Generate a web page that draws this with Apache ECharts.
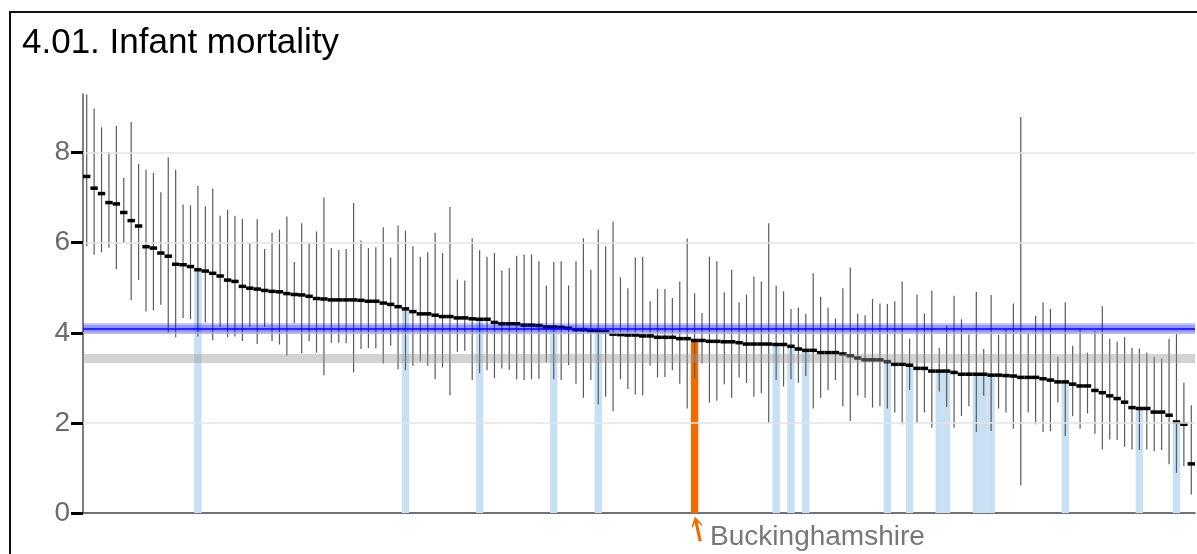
<!DOCTYPE html>
<html>
<head>
<meta charset="utf-8">
<title>4.01. Infant mortality</title>
<script src="https://cdn.jsdelivr.net/npm/echarts@6.0.0/dist/echarts.min.js"></script>
<style>
  html, body { margin: 0; padding: 0; background: #fff; }
  .wrap { position: relative; width: 1197px; height: 554px; overflow: hidden; }
  #chart { position: absolute; left: 0; top: 0; width: 1197px; height: 554px; }
  .frame {
    position: absolute; left: 9px; top: 11px; right: -4px; bottom: -4px;
    border-left: 2px solid #111; border-top: 2px solid #111;
    pointer-events: none;
  }
</style>
</head>
<body>
<div class="wrap">
  <div id="chart"></div>
  <div class="frame"></div>
</div>
<script>
// rate per 1,000 live births, areas ranked from highest to lowest
const pointEst = [
  7.47, 7.21, 7.09, 6.89, 6.86, 6.67, 6.49, 6.37, 5.91, 5.88, 5.77, 5.70, 5.52, 5.51, 5.47, 5.40, 5.37, 5.32, 5.26, 5.17,
  5.14, 5.03, 4.99, 4.97, 4.94, 4.92, 4.91, 4.87, 4.85, 4.84, 4.81, 4.76, 4.75, 4.73, 4.73, 4.73, 4.73,
  4.72, 4.70, 4.70, 4.66, 4.63, 4.58, 4.53, 4.47, 4.42, 4.42, 4.39, 4.36, 4.36, 4.33, 4.33, 4.31, 4.30, 4.30, 4.23, 4.20,
  4.20, 4.20, 4.17, 4.17, 4.16, 4.13, 4.13, 4.12, 4.10, 4.07, 4.07, 4.04, 4.03, 4.02, 3.97, 3.96, 3.95, 3.95,
  3.93, 3.93, 3.90, 3.90, 3.90, 3.87, 3.87, 3.83, 3.83, 3.81, 3.81, 3.80, 3.80, 3.78, 3.75, 3.75, 3.75, 3.75, 3.74, 3.74,
  3.70, 3.64, 3.61, 3.61, 3.56, 3.56, 3.56, 3.53, 3.49, 3.44, 3.40, 3.40, 3.40, 3.36, 3.30, 3.30, 3.28,
  3.21, 3.21, 3.15, 3.15, 3.15, 3.12, 3.08, 3.08, 3.08, 3.08, 3.06, 3.06, 3.05, 3.04, 3.01, 3.01, 3.01, 2.98, 2.95, 2.91,
  2.91, 2.86, 2.82, 2.82, 2.72, 2.67, 2.60, 2.54, 2.46, 2.34, 2.32, 2.32, 2.24, 2.24, 2.17, 2.02, 1.97, 1.09
];
const lowerCI = [
  5.92, 5.73, 5.79, 5.89, 5.41, 5.99, 4.73, 5.17, 4.47, 4.50, 4.62, 3.99, 3.90, 4.33, 4.30, 3.92, 4.23, 3.84, 4.13, 3.90,
  3.92, 3.82, 4.13, 3.75, 4.13, 3.82, 3.74, 3.49, 4.21, 3.54, 3.82, 3.56, 3.06, 3.78, 3.78, 3.77, 3.12,
  3.64, 3.66, 3.65, 3.32, 3.71, 3.19, 3.17, 3.27, 3.36, 3.27, 2.97, 3.23, 2.61, 3.58, 3.60, 2.95, 3.10, 3.17, 2.99, 3.21,
  3.18, 2.97, 2.95, 2.97, 2.98, 3.35, 2.97, 2.95, 3.28, 2.87, 2.56, 2.95, 2.41, 2.58, 2.26, 2.97, 2.75, 2.63,
  2.61, 3.27, 3.01, 3.02, 3.17, 2.87, 2.32, 2.99, 3.32, 2.45, 2.49, 2.86, 2.56, 3.01, 2.88, 2.58, 2.66, 1.99, 2.95, 2.81,
  2.97, 2.89, 3.04, 2.32, 2.56, 2.73, 2.95, 2.37, 2.04, 2.61, 2.56, 2.34, 2.37, 2.32, 2.23, 1.97, 2.73,
  2.00, 2.23, 1.89, 2.69, 2.35, 1.89, 2.15, 2.37, 1.80, 2.60, 1.82, 2.32, 2.23, 1.87, 0.61, 2.23, 1.97, 1.80, 1.82, 2.45,
  1.71, 2.15, 1.87, 2.21, 1.76, 1.41, 1.63, 1.62, 1.47, 1.41, 1.40, 1.41, 1.37, 1.40, 1.08, 0.89, 1.04, 0.41
];
const upperCI = [
  9.29, 8.98, 8.56, 8.01, 8.59, 7.44, 8.68, 7.75, 7.62, 7.55, 7.12, 7.89, 7.62, 6.85, 6.83, 7.26, 6.81, 7.20, 6.60, 6.73,
  6.60, 6.53, 5.99, 6.52, 5.86, 6.22, 6.29, 6.58, 5.57, 6.43, 5.99, 6.25, 7.00, 5.88, 5.84, 5.86, 6.88,
  6.05, 5.88, 5.90, 6.34, 5.67, 6.38, 6.27, 5.92, 5.69, 5.79, 6.22, 5.77, 6.79, 5.18, 5.16, 6.10, 5.83, 5.69, 5.77, 5.38,
  5.43, 5.71, 5.74, 5.74, 5.59, 5.05, 5.57, 5.59, 5.05, 5.59, 6.10, 5.40, 6.29, 5.92, 6.47, 5.23, 4.99, 5.67,
  5.69, 4.70, 4.97, 4.97, 4.77, 5.14, 6.09, 4.88, 4.44, 5.69, 5.59, 4.90, 5.40, 4.68, 4.85, 5.25, 5.14, 6.43, 5.05, 4.92,
  4.53, 4.56, 4.42, 5.32, 4.80, 4.56, 4.32, 4.99, 5.45, 4.42, 4.39, 4.75, 4.65, 4.64, 4.70, 5.14, 3.87,
  4.85, 4.43, 4.94, 3.67, 4.16, 4.82, 4.30, 3.96, 4.91, 3.64, 4.84, 3.96, 4.08, 4.65, 8.79, 3.99, 4.38, 4.68, 4.53, 3.47,
  4.68, 3.71, 4.10, 3.56, 4.04, 4.59, 3.87, 3.80, 3.90, 3.67, 3.65, 3.56, 3.47, 3.43, 3.87, 3.97, 2.89, 2.39
];
// positions (0-based rank) of the comparator areas shaded light blue
const comparatorIdx = [15, 43, 53, 63, 69, 93, 95, 97, 108, 111, 115, 116, 120, 121, 122, 132, 142, 147];
const highlightIdx = 82;
const highlightName = 'Buckinghamshire';
const englandValue = 4.1;     // blue band
const comparatorValue = 3.43; // grey band
const yTicks = [0, 2, 4, 6, 8];
const yMax = 9.3;

const ranks = pointEst.map((v, i) => String(i + 1));

let myChart = echarts.init(document.getElementById('chart'));

// CI line + point estimate dash for every area
function renderCI(params, api) {
  const i = api.value(0);
  const top = api.coord([i, api.value(3)]);
  const bot = api.coord([i, api.value(2)]);
  const mid = api.coord([i, api.value(1)]);
  const w = api.size([1, 0])[0];
  return {
    type: 'group',
    children: [
      { type: 'line', shape: { x1: top[0], y1: top[1], x2: bot[0], y2: bot[1] },
        style: { stroke: '#5a5a5a', lineWidth: 1.2 } },
      { type: 'rect', shape: { x: mid[0] - w / 2, y: mid[1] - 1.75, width: w, height: 3.5 },
        style: { fill: '#000' } }
    ]
  };
}

let option = {
  animation: false,
  textStyle: { fontFamily: 'Liberation Sans, Arial, sans-serif' },
  title: {
    text: '4.01. Infant mortality',
    left: 17,
    top: 21,
    textStyle: { fontSize: 35, fontWeight: 'normal', color: '#000' }
  },
  grid: { left: 83, right: 2, top: 94, bottom: 41 },
  xAxis: {
    type: 'category',
    data: ranks,
    boundaryGap: true,
    axisLine: { lineStyle: { color: '#444', width: 1.5 } },
    axisTick: { show: false },
    axisLabel: { show: false },
    splitLine: { show: false }
  },
  yAxis: {
    type: 'value',
    min: 0,
    max: yMax,
    interval: 2,
    axisLine: { show: true, lineStyle: { color: '#555', width: 1.5 } },
    axisTick: { show: true, length: 12, lineStyle: { color: '#000', width: 3 }, customValues: yTicks },
    axisLabel: { fontSize: 28, color: '#6b6b6b', margin: 13, customValues: yTicks },
    splitLine: { show: false }
  },
  series: [
    {
      // light grid lines
      type: 'line',
      data: [],
      z: 0,
      silent: true,
      markLine: {
        silent: true,
        symbol: 'none',
        label: { show: false },
        lineStyle: { color: '#e4e4e4', width: 1.5, type: 'solid' },
        data: yTicks.filter(t => t > 0).map(t => ({ yAxis: t }))
      }
    },
    {
      name: 'comparators',
      type: 'bar',
      z: 1,
      barWidth: '100%',
      barGap: '-100%',
      itemStyle: { color: '#c8e0f4' },
      data: pointEst.map((v, i) => comparatorIdx.includes(i) ? v : '-')
    },
    {
      name: highlightName,
      type: 'bar',
      z: 1,
      barWidth: '100%',
      barGap: '-100%',
      itemStyle: { color: '#ef6c00' },
      data: pointEst.map((v, i) => i === highlightIdx ? v : '-'),
      markPoint: {
        silent: true,
        // small upward arrow under the highlighted bar
        symbol: 'path://M5,0 L10,8 L10,11 L6.6,5.8 L6.6,25 L3.4,25 L3.4,5.8 L0,11 L0,8 Z',
        symbolSize: [10, 25],
        symbolOffset: [3, 16],
        symbolRotate: 12,
        itemStyle: { color: '#ef6c00' },
        label: {
          show: true,
          position: 'right',
          distance: 5,
          offset: [0, 8],
          fontSize: 28,
          color: '#777',
          formatter: highlightName
        },
        data: [{ coord: [ranks[highlightIdx], 0] }]
      }
    },
    {
      name: 'CI',
      type: 'custom',
      z: 2,
      renderItem: renderCI,
      encode: { x: 0, y: [1, 2, 3] },
      data: pointEst.map((v, i) => [i, v, lowerCI[i], upperCI[i]])
    },
    {
      // England and comparator reference bands, drawn over the marks
      type: 'line',
      data: [],
      z: 5,
      silent: true,
      markLine: {
        silent: true,
        symbol: 'none',
        label: { show: false },
        data: [
          { yAxis: comparatorValue, lineStyle: { color: 'rgba(150,150,150,0.42)', width: 9, type: 'solid' } },
          { yAxis: englandValue, lineStyle: { color: 'rgba(0,0,255,0.22)', width: 11, type: 'solid' } },
          { yAxis: englandValue, lineStyle: { color: 'rgba(0,0,255,0.25)', width: 7, type: 'solid' } },
          { yAxis: englandValue, lineStyle: { color: '#0000ff', width: 1.5, type: 'solid' } }
        ]
      }
    }
  ]
};

myChart.setOption(option);
</script>
</body>
</html>
